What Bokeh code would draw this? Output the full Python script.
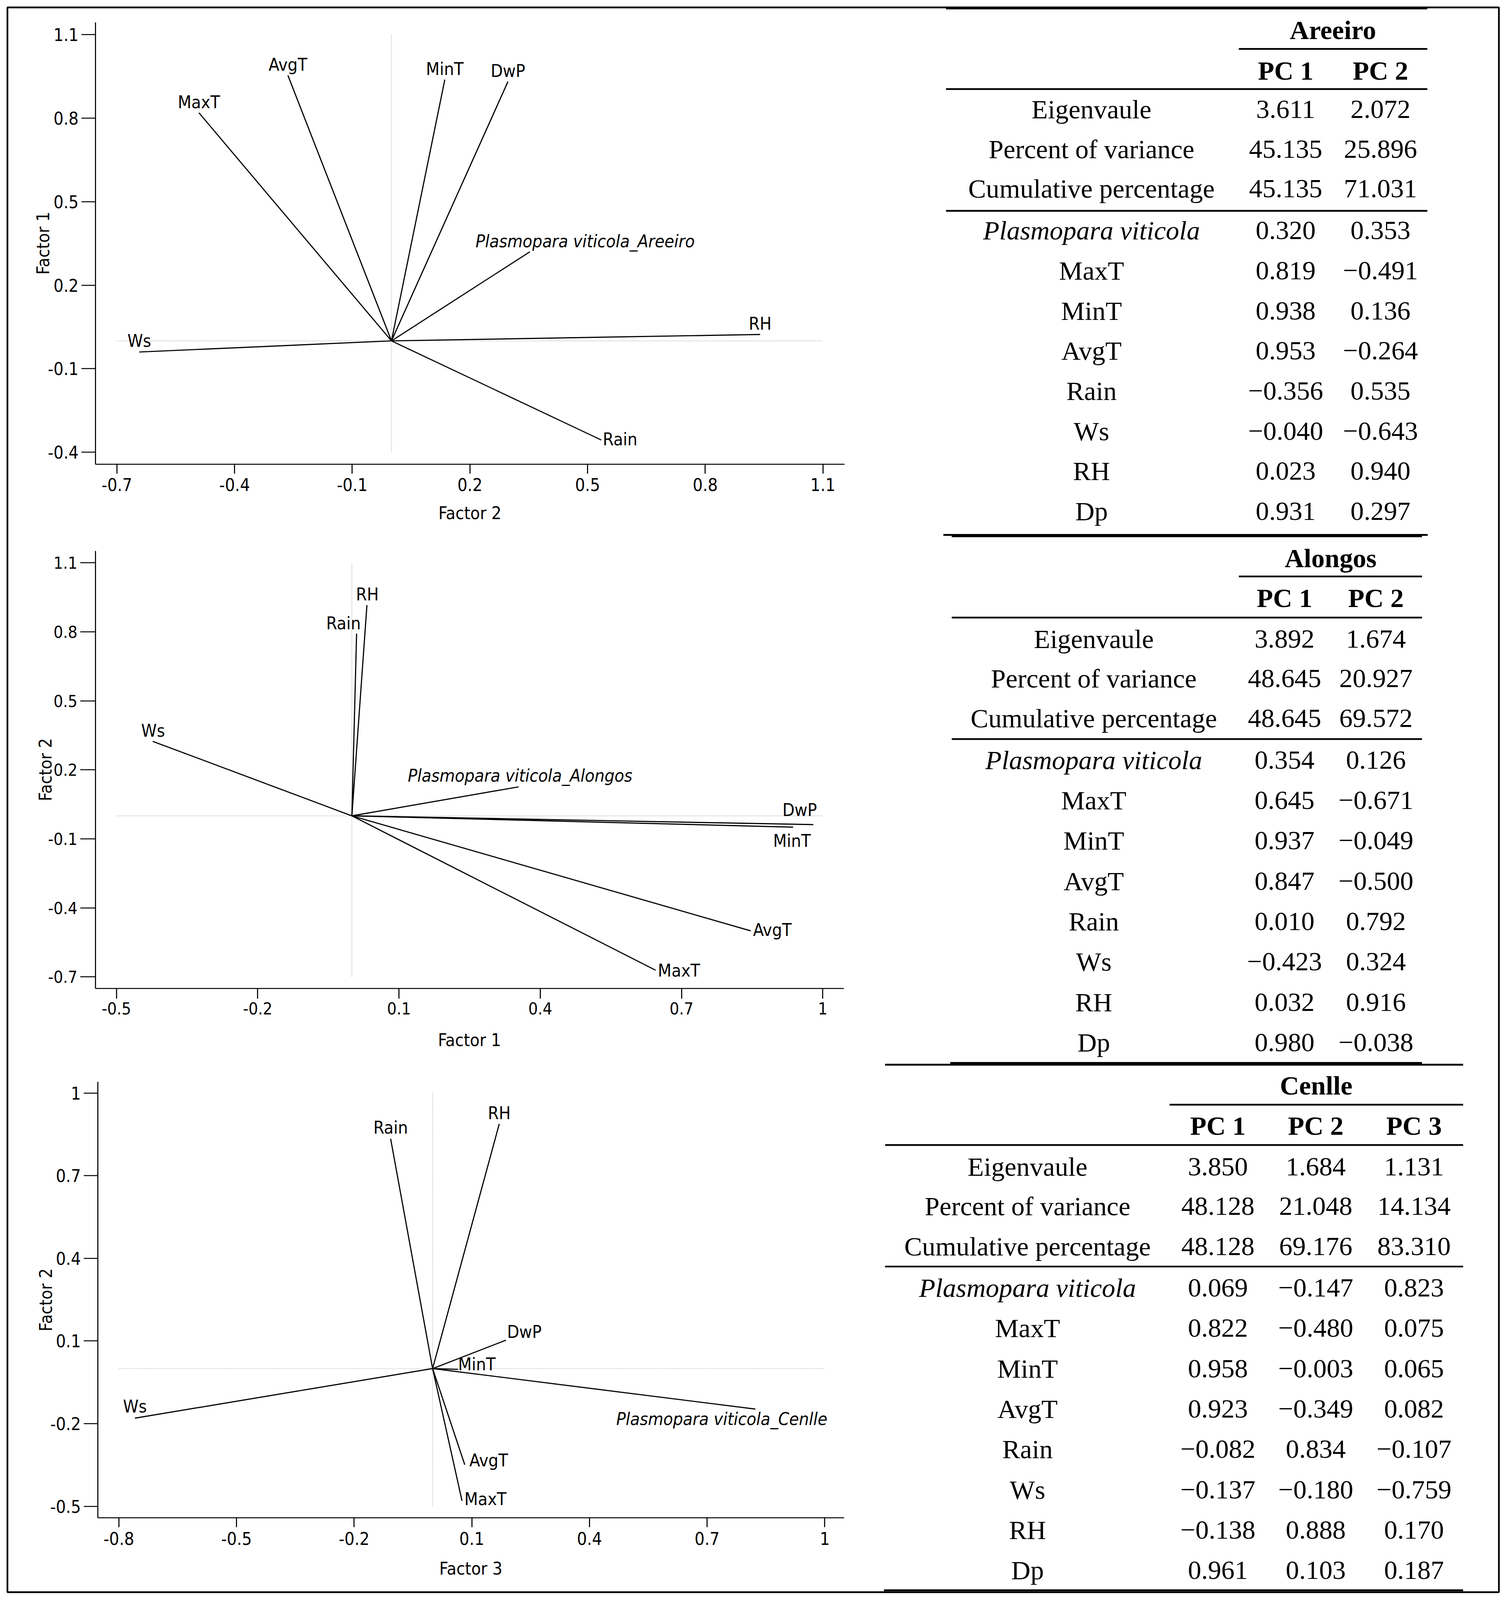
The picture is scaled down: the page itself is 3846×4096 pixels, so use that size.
import math
from bokeh.plotting import figure
from bokeh.models import Range1d, LinearAxis, FixedTicker, ColumnDataSource, CustomJSTickFormatter
from bokeh.core.properties import value
from bokeh.embed import file_html
from bokeh.resources import INLINE

# ---------------- data ----------------
variables = ["Plasmopara viticola", "MaxT", "MinT", "AvgT", "Rain", "Ws", "RH", "Dp"]
plot_names_areeiro = ["Plasmopara viticola_Areeiro", "MaxT", "MinT", "AvgT", "Rain", "Ws", "RH", "DwP"]
plot_names_alongos = ["Plasmopara viticola_Alongos", "MaxT", "MinT", "AvgT", "Rain", "Ws", "RH", "DwP"]
plot_names_cenlle = ["Plasmopara viticola_Cenlle", "MaxT", "MinT", "AvgT", "Rain", "Ws", "RH", "DwP"]
stat_rows = ["Eigenvaule", "Percent of variance", "Cumulative percentage"]

areeiro_eigen = [3.611, 2.072]
areeiro_pct = [45.135, 25.896]
areeiro_cum = [45.135, 71.031]
areeiro_pc1 = [0.320, 0.819, 0.938, 0.953, -0.356, -0.040, 0.023, 0.931]
areeiro_pc2 = [0.353, -0.491, 0.136, -0.264, 0.535, -0.643, 0.940, 0.297]

alongos_eigen = [3.892, 1.674]
alongos_pct = [48.645, 20.927]
alongos_cum = [48.645, 69.572]
alongos_pc1 = [0.354, 0.645, 0.937, 0.847, 0.010, -0.423, 0.032, 0.980]
alongos_pc2 = [0.126, -0.671, -0.049, -0.500, 0.792, 0.324, 0.916, -0.038]

cenlle_eigen = [3.850, 1.684, 1.131]
cenlle_pct = [48.128, 21.048, 14.134]
cenlle_cum = [48.128, 69.176, 83.310]
cenlle_pc1 = [0.069, 0.822, 0.958, 0.923, -0.082, -0.137, -0.138, 0.961]
cenlle_pc2 = [-0.147, -0.480, -0.003, -0.349, 0.834, -0.180, 0.888, 0.103]
cenlle_pc3 = [0.823, 0.075, 0.065, 0.082, -0.107, -0.759, 0.170, 0.187]

ticks_a_x = [-0.7, -0.4, -0.1, 0.2, 0.5, 0.8, 1.1]
labels_a_x = ["-0.7", "-0.4", "-0.1", "0.2", "0.5", "0.8", "1.1"]
ticks_a_y = [-0.4, -0.1, 0.2, 0.5, 0.8, 1.1]
labels_a_y = ["-0.4", "-0.1", "0.2", "0.5", "0.8", "1.1"]
ticks_b_x = [-0.5, -0.2, 0.1, 0.4, 0.7, 1.0]
labels_b_x = ["-0.5", "-0.2", "0.1", "0.4", "0.7", "1"]
ticks_b_y = [-0.7, -0.4, -0.1, 0.2, 0.5, 0.8, 1.1]
labels_b_y = ["-0.7", "-0.4", "-0.1", "0.2", "0.5", "0.8", "1.1"]
ticks_c_x = [-0.8, -0.5, -0.2, 0.1, 0.4, 0.7, 1.0]
labels_c_x = ["-0.8", "-0.5", "-0.2", "0.1", "0.4", "0.7", "1"]
ticks_c_y = [-0.5, -0.2, 0.1, 0.4, 0.7, 1.0]
labels_c_y = ["-0.5", "-0.2", "0.1", "0.4", "0.7", "1"]

# ---------------- layout (reference pixel space, scaled by S) ----------------
S = 0.975
W, H = 3846, 4096
X0, X1 = 0.0, W / S
YT, YB = 0.0, H / S

SANS = "Liberation Sans Narrow, Noto Sans Condensed, DejaVu Sans Condensed, Liberation Sans, sans-serif"
SERIF = "Liberation Serif, serif"
LFS = 46  # label font size (reference px)


def px(v):
    return f"{v * S:.2f}px"


p = figure(width=W, height=H, output_backend="svg", toolbar_location=None,
           x_range=Range1d(X0, X1), y_range=Range1d(YB, YT),
           x_axis_type=None, y_axis_type=None, min_border=0,
           outline_line_color=None, background_fill_color="white",
           border_fill_color="white")


def style_axis(ax, tick_out, font_size, standoff):
    ax.major_tick_out = int(round(tick_out * S))
    ax.major_tick_in = 0
    ax.minor_tick_out = 0
    ax.minor_tick_in = 0
    ax.axis_line_width = 2.8 * S
    ax.major_tick_line_width = 2.8 * S
    ax.axis_line_color = "black"
    ax.major_tick_line_color = "black"
    ax.major_label_text_font = SANS
    ax.major_label_text_font_size = px(font_size)
    ax.major_label_text_color = "black"
    ax.major_label_standoff = int(round(standoff * S))


def formatter(vals, labs):
    return CustomJSTickFormatter(args=dict(vals=vals, labs=labs), code="""
        for (let i = 0; i < vals.length; i++) {
            if (Math.abs(vals[i] - tick) < 1e-6) { return labs[i]; }
        }
        return "";
    """)


def biplot(key, xv, yv, names, g, xt, xl, yt, yl, offs, xtitle, ytitle):
    xn, yn = key + "_x", key + "_y"
    p.extra_x_ranges[xn] = Range1d((X0 - g["x0"]) / g["kx"], (X1 - g["x0"]) / g["kx"])
    p.extra_y_ranges[yn] = Range1d((g["y0"] - YB) / g["ky"], (g["y0"] - YT) / g["ky"])
    xlo = (g["left"] - g["x0"]) / g["kx"]
    xhi = (g["right"] - g["x0"]) / g["kx"]
    ylo = (g["y0"] - g["bottom"]) / g["ky"]
    yhi = (g["y0"] - g["top"]) / g["ky"]

    # reference cross through the origin
    p.segment(x0=[min(xt), 0], y0=[0, min(yt)], x1=[max(xt), 0], y1=[0, max(yt)],
              x_range_name=xn, y_range_name=yn, line_color="#c4c4c4",
              line_width=2.2 * S, line_dash="2 2")
    # loading vectors
    n = len(xv)
    src = ColumnDataSource(dict(x0=[0.0] * n, y0=[0.0] * n, x1=xv, y1=yv))
    p.segment(x0="x0", y0="y0", x1="x1", y1="y1", source=src,
              x_range_name=xn, y_range_name=yn, line_color="black", line_width=3.0 * S)

    # axes
    xa = LinearAxis(x_range_name=xn, y_range_name=yn, fixed_location=ylo, bounds=(xlo, xhi),
                    ticker=FixedTicker(ticks=xt, minor_ticks=[]), formatter=formatter(xt, xl))
    style_axis(xa, g["xtick"], g["fs"], g["xstand"])
    p.add_layout(xa, "below")
    ya = LinearAxis(x_range_name=xn, y_range_name=yn, fixed_location=xlo, bounds=(ylo, yhi),
                    ticker=FixedTicker(ticks=yt, minor_ticks=[]), formatter=formatter(yt, yl))
    style_axis(ya, g["ytick"], g["fs"], g["ystand"])
    p.add_layout(ya, "left")

    # vector labels
    for i in range(n):
        al, dx, dy = offs[i]
        p.text(x=[xv[i]], y=[yv[i]], text=[names[i]], x_range_name=xn, y_range_name=yn,
               x_offset=dx * S, y_offset=dy * S, text_align=al, text_baseline="middle",
               text_font=value(SANS), text_font_size=value(px(LFS)),
               text_font_style="italic" if i == 0 else "normal", text_color="black")

    # axis titles
    cx = (g["left"] + g["right"]) / 2
    p.text(x=[cx], y=[g["xt_y"]], text=[xtitle], text_align="center",
           text_baseline="middle", text_font=value(SANS), text_font_size=value(px(LFS)),
           text_color="black")
    cy = (g["top"] + g["bottom"]) / 2
    p.text(x=[g["yt_x"]], y=[cy], text=[ytitle], angle=math.pi / 2, text_align="center",
           text_baseline="middle", text_font=value(SANS), text_font_size=value(px(LFS)),
           text_color="black")


geom_a = dict(x0=1027.6, kx=1030.0, y0=894.5, ky=731.3, left=250, right=2217, top=58,
              bottom=1218, xtick=25, ytick=37, fs=46, xstand=12, ystand=7, xt_y=1347, yt_x=113)
geom_b = dict(x0=923.6, kx=1236.7, y0=2141.6, ky=604.0, left=250, right=2215, top=1446,
              bottom=2594.6, xtick=27, ytick=40, fs=44, xstand=10, ystand=7, xt_y=2730, yt_x=119)
geom_c = dict(x0=1135.6, kx=1030.0, y0=3592.85, ky=723.5, left=256, right=2216, top=2840,
              bottom=3985, xtick=25, ytick=37, fs=46, xstand=12, ystand=7, xt_y=4118, yt_x=120)

# (alignment, dx, dy) of each vector label relative to the vector tip, reference px
offs_a = [("center", 145, -28), ("center", 0, -28), ("center", 0, -28), ("center", 0, -28),
          ("left", 4, -2), ("center", 0, -29), ("center", 0, -28), ("center", 0, -28)]
offs_b = [("center", 4, -30), ("left", 6, 1), ("center", -3, 36), ("left", 6, -3),
          ("right", 11, -27), ("center", 1, -28), ("center", 1, -28), ("center", -36, -38)]
offs_c = [("right", 189, 26), ("left", 6, -5), ("left", 0, -13), ("left", 12, -11),
          ("center", 0, -29), ("center", 0, -31), ("center", 0, -28), ("left", 3, -22)]

biplot("a", areeiro_pc2, areeiro_pc1, plot_names_areeiro, geom_a, ticks_a_x, labels_a_x,
       ticks_a_y, labels_a_y, offs_a, "Factor 2", "Factor 1")
biplot("b", alongos_pc1, alongos_pc2, plot_names_alongos, geom_b, ticks_b_x, labels_b_x,
       ticks_b_y, labels_b_y, offs_b, "Factor 1", "Factor 2")
biplot("c", cenlle_pc3, cenlle_pc2, plot_names_cenlle, geom_c, ticks_c_x, labels_c_x,
       ticks_c_y, labels_c_y, offs_c, "Factor 3", "Factor 2")

# ---------------- tables ----------------
TFS = 70


def fmt(v):
    return f"{v:.3f}".replace("-", "\u2212")


def table(site, eig, pct, cum, loads, label_cx, col_cx, head_cx, y_head, y_pc, y_stats,
          y_load0, dy_load, rules):
    for (xa, xb, yy, lw) in rules:
        p.segment(x0=[xa], y0=[yy], x1=[xb], y1=[yy], line_color="black", line_width=lw * S)
    tf = value(SERIF)
    fs = value(px(TFS))
    common = dict(text_align="center", text_baseline="middle", text_font=tf,
                  text_font_size=fs, text_color="black")
    p.text(x=[head_cx], y=[y_head], text=[site], text_font_style="bold", **common)
    p.text(x=col_cx, y=[y_pc] * len(col_cx),
           text=[f"PC {k + 1}" for k in range(len(col_cx))], text_font_style="bold", **common)
    # statistics rows
    p.text(x=[label_cx] * 3, y=y_stats, text=stat_rows, **common)
    for k in range(len(col_cx)):
        p.text(x=[col_cx[k]] * 3, y=y_stats,
               text=[f"{eig[k]:.3f}", f"{pct[k]:.3f}", f"{cum[k]:.3f}"], **common)
    # loading rows
    ys = [y_load0 + dy_load * i for i in range(len(variables))]
    p.text(x=[label_cx], y=[ys[0]], text=[variables[0]], text_font_style="italic", **common)
    p.text(x=[label_cx] * (len(variables) - 1), y=ys[1:], text=variables[1:], **common)
    for k in range(len(col_cx)):
        p.text(x=[col_cx[k]] * len(variables), y=ys, text=[fmt(v) for v in loads[k]], **common)


table("Areeiro", areeiro_eigen, areeiro_pct, areeiro_cum, [areeiro_pc1, areeiro_pc2],
      2866, [3376, 3625], 3500, 78.5, 184.7, [287, 391, 495], 605, 105.3,
      [(2484, 3748, 21, 6), (3253, 3748, 128, 4.6), (2484, 3748, 233.4, 4.6),
       (2484, 3748, 553, 4.6), (2477, 3749, 1404, 5)])
table("Alongos", alongos_eigen, alongos_pct, alongos_cum, [alongos_pc1, alongos_pc2],
      2872, [3373, 3613], 3494, 1465, 1569.5, [1677, 1781, 1886], 1995, 106,
      [(2499, 3734, 1406, 8), (3253, 3734, 1513, 4.6), (2499, 3734, 1621, 4.6),
       (2499, 3734, 1940, 4.6), (2495, 3734, 2791, 6)])
table("Cenlle", cenlle_eigen, cenlle_pct, cenlle_cum, [cenlle_pc1, cenlle_pc2, cenlle_pc3],
      2698, [3198, 3455, 3713], 3456, 2850, 2955.5, [3063, 3167, 3272], 3381, 106,
      [(2324, 3842, 2795, 5), (3071, 3842, 2900, 4.6), (2324, 3842, 3006, 4.6),
       (2324, 3842, 3325, 4.6), (2321, 3842, 4175, 5)])

# outer frame
p.quad(left=[19], right=[3936], top=[19], bottom=[4180], fill_color=None,
       line_color="black", line_width=4.5 * S)

open("out.html", "w").write(file_html(p, INLINE))
